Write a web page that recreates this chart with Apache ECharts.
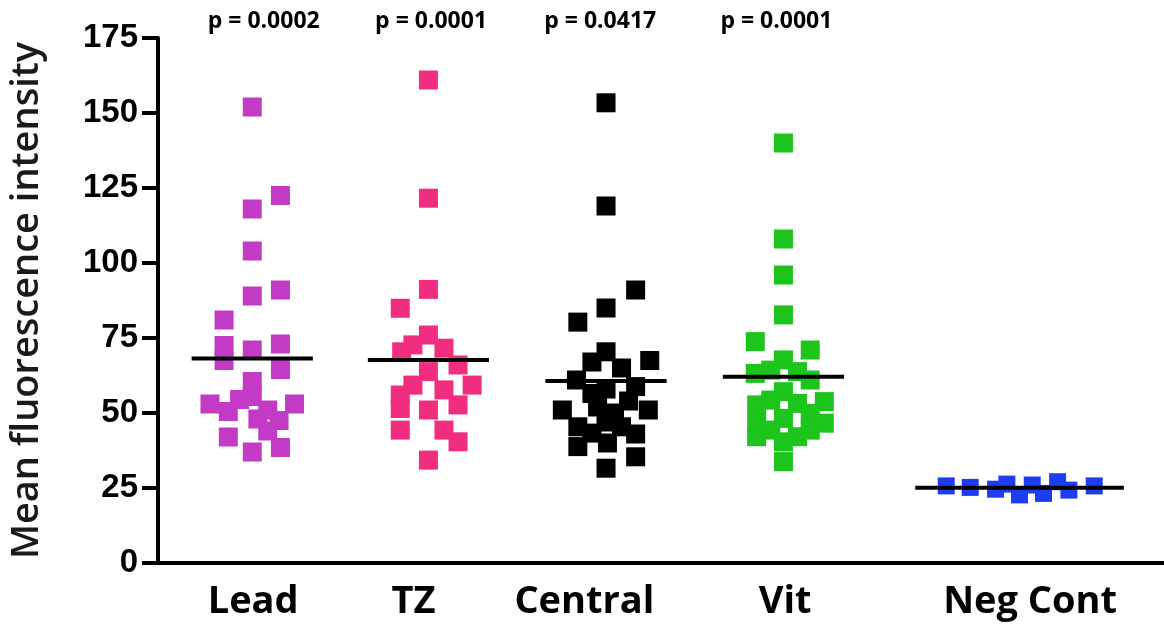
<!DOCTYPE html>
<html><head><meta charset="utf-8">
<script src="https://cdn.jsdelivr.net/npm/echarts@6/dist/echarts.min.js"></script>
<style>html,body{margin:0;padding:0;background:#fff}#c{width:1164px;height:632px}</style>
</head><body><div id="c"></div>
<script>
// ---- data ----
const groups = ['Lead', 'TZ', 'Central', 'Vit', 'Neg Cont'];
const groupPositions = [0.975, 1.975, 2.983, 3.99, 5.33];
const labelPositions = [0.98, 1.89, 2.86, 4.0, 5.39];
const pValues = ['p = 0.0002', 'p = 0.0001', 'p = 0.0417', 'p = 0.0001'];
const pPositions = [1.04, 1.99, 2.95, 3.95];
const yTicks = [0, 25, 50, 75, 100, 125, 150, 175];

const leadValues = [152, 122.5, 118, 104, 91, 89, 81, 72.5, 67.5, 71, 73, 64.5, 60.5, 53, 53, 50.5, 54.5, 55.5, 48, 51, 47.5, 44, 42, 37, 38.5];
const leadSlots  = [0, 2, 0, 0, 2, 0, -2, -2, -2, 0, 2, 2, 0, -3, 3, -1.7, -0.9, 0, 0.4, 1.1, 1.9, 1.1, -1.7, 0, 2];

const tzValues = [161, 121.6, 91.2, 84.9, 76, 70.4, 72.7, 71.6, 66, 63.8, 59.3, 59.3, 57.7, 56, 51.5, 51, 52.7, 44.3, 44.3, 40.4, 34.3];
const tzSlots  = [0, 0, 0, -2, 0, -1.9, -1.1, 1.1, 2.1, 0, -1.1, 3.1, 1.1, -2, -2, 0, 2.1, -2, 1.1, 2.1, 0];

const centralValues = [153.4, 119, 91, 85, 80.3, 70.4, 67, 67.5, 65, 61, 58, 58.8, 56.5, 54, 51, 51, 52, 50, 47, 45.4, 43.3, 45.4, 43, 38.8, 40, 35.4, 31.6];
const centralSlots  = [0, 0, 2.1, 0, -2, 0, -1, 3.1, 1.1, -2.1, 0, 2.1, -1, 1.6, -3.1, 3, -0.6, 0.6, 0, -2, -1, 1.1, 2.1, -2, 0.1, 2.1, 0];

const vitValues = [140, 108, 96, 82.7, 73.8, 63.2, 71, 67.7, 64.3, 63.8, 61, 57.1, 52.7, 54.3, 53.8, 53.2, 49.9, 46.6, 48.2, 46.6, 44.3, 42.1, 42.1, 44.3, 40.4, 33.8];
const vitSlots  = [0, 0, 0, 0, -2, -2, 1.9, 0, -0.9, 1, 1.9, 0, -1.9, -0.9, 2.9, 1, 1.9, -1.9, 0, 2.9, -0.9, -1.9, 1, 1.9, 0, 0];

const negValues = [25.7, 25.2, 24.6, 26.3, 22.7, 26, 23.2, 27.1, 24.3, 25.7];
const negSlots  = [-5.2, -3.5, -1.7, -0.9, 0, 0.9, 1.7, 2.7, 3.5, 5.3];

const means = [68.2, 67.7, 60.7, 62.1, 25.1];
const meanHalfSlots = [4.3, 4.3, 4.3, 4.3, 7.4];

const colors = ['#C33BC4', '#F02D7E', '#000000', '#1CC41C', '#1E3CF2'];
// ---------------------------------------

const slotWidth = 0.08;
const groupValues = [leadValues, tzValues, centralValues, vitValues, negValues];
const groupSlots = [leadSlots, tzSlots, centralSlots, vitSlots, negSlots];

const series = [];
groups.forEach((g, i) => {
  series.push({
    name: g, type: 'scatter', symbol: 'rect', symbolSize: i === 4 ? 17 : 19,
    itemStyle: { color: colors[i], opacity: 1 },
    data: groupValues[i].map((v, k) => [groupPositions[i] + groupSlots[i][k] * slotWidth, v]),
    z: 2, silent: true
  });
  series.push({
    name: g + ' mean', type: 'line', symbol: 'none',
    lineStyle: { color: '#000', width: 4 },
    data: [[groupPositions[i] - meanHalfSlots[i] * slotWidth, means[i]],
           [groupPositions[i] + meanHalfSlots[i] * slotWidth, means[i]]],
    z: 5, silent: true, animation: false
  });
});

function nearestIndex(arr, v) {
  let best = 0;
  arr.forEach((p, i) => { if (Math.abs(p - v) < Math.abs(arr[best] - v)) best = i; });
  return best;
}

const chart = echarts.init(document.getElementById('c'), null, { renderer: 'canvas' });
chart.setOption({
  animation: false,
  backgroundColor: '#fff',
  grid: { left: 152, right: 0, top: 38, bottom: 69, containLabel: false },
  xAxis: [{
    type: 'value', min: 0.44, max: 6.15, position: 'bottom',
    axisLine: { show: true, onZero: false, lineStyle: { color: '#000', width: 4 } },
    axisTick: { show: false },
    splitLine: { show: false },
    axisLabel: {
      customValues: labelPositions,
      formatter: v => groups[nearestIndex(labelPositions, v)],
      color: '#000', fontFamily: 'Open Sans', fontWeight: 'bold', fontSize: 38, margin: 20
    }
  }, {
    type: 'value', min: 0.44, max: 6.15, position: 'top',
    axisLine: { show: false }, axisTick: { show: false }, splitLine: { show: false },
    axisLabel: {
      customValues: pPositions,
      formatter: v => pValues[nearestIndex(pPositions, v)],
      color: '#000', fontFamily: 'Open Sans', fontWeight: 'bold', fontSize: 23, margin: 5
    }
  }],
  yAxis: {
    type: 'value', min: 0, max: 175, interval: 25,
    name: 'Mean fluorescence intensity', nameLocation: 'middle', nameGap: 112,
    nameTextStyle: { fontFamily: 'Open Sans', fontWeight: 600, fontSize: 38, color: '#1a1a1a' },
    axisLine: { show: true, lineStyle: { color: '#000', width: 4 } },
    axisTick: { show: true, length: 16, lineStyle: { color: '#000', width: 4 } },
    splitLine: { show: false },
    axisLabel: {
      formatter: v => (yTicks.includes(v) ? String(v) : ''),
      color: '#000', fontFamily: 'Liberation Sans', fontWeight: 'bold', fontSize: 33, margin: 20
    }
  },
  series: series
});
</script>
</body></html>
